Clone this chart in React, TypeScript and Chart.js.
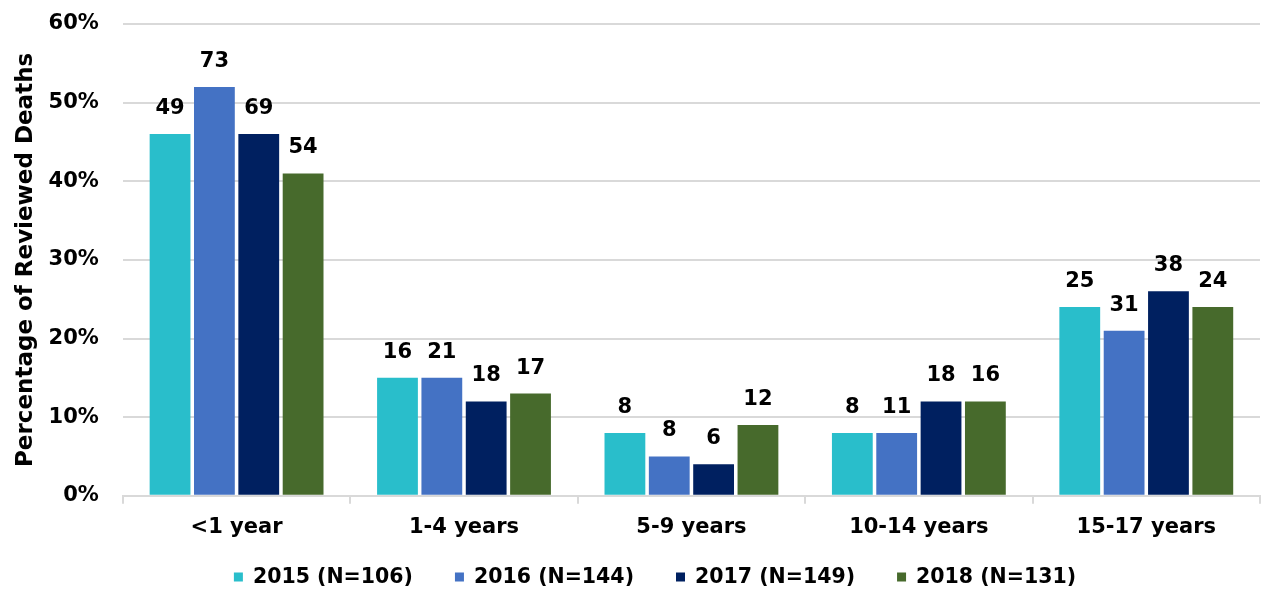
import React, { useEffect, useRef } from "react";
import { Chart, registerables } from "chart.js";

Chart.register(...registerables);

const categories = ["<1 year", "1-4 years", "5-9 years", "10-14 years", "15-17 years"];
const seriesNames = ["2015 (N=106)", "2016 (N=144)", "2017 (N=149)", "2018 (N=131)"];
const colors = ["#29BECB", "#4472C4", "#002060", "#476A2C"];
const pct2015 = [46, 15, 8, 8, 24];
const pct2016 = [52, 15, 5, 8, 21];
const pct2017 = [46, 12, 4, 12, 26];
const pct2018 = [41, 13, 9, 12, 24];
const count2015 = [49, 16, 8, 8, 25];
const count2016 = [73, 21, 8, 11, 31];
const count2017 = [69, 18, 6, 18, 38];
const count2018 = [54, 17, 12, 16, 24];
const yTicks = [0, 10, 20, 30, 40, 50, 60];

const FONT = "'DejaVu Sans', sans-serif";

export default function App() {
  const ref = useRef<HTMLCanvasElement | null>(null);
  useEffect(() => {
    document.body.style.margin = "0";
    const pcts = [pct2015, pct2016, pct2017, pct2018];
    const counts = [count2015, count2016, count2017, count2018];
    const labelPlugin = {
      id: "barLabels",
      afterDatasetsDraw(chart: any) {
        const ctx = chart.ctx;
        ctx.save();
        ctx.font = `bold 21px ${FONT}`;
        ctx.fillStyle = "#000";
        ctx.textAlign = "center";
        ctx.textBaseline = "alphabetic";
        chart.data.datasets.forEach((ds: any, i: number) => {
          const meta = chart.getDatasetMeta(i);
          meta.data.forEach((bar: any, j: number) => {
            ctx.fillText(String(counts[i][j]), bar.x, bar.y - 20);
          });
        });
        ctx.restore();
      },
    };
    const legendPlugin = {
      id: "customLegend",
      afterDraw(chart: any) {
        const ctx = chart.ctx;
        ctx.save();
        ctx.font = `bold 20.5px ${FONT}`;
        ctx.textBaseline = "middle";
        ctx.textAlign = "left";
        const box = 9;
        const textGap = 10;
        const itemGap = 42;
        const widths = chart.data.datasets.map(
          (ds: any) => box + textGap + ctx.measureText(ds.label).width
        );
        const total =
          widths.reduce((a: number, b: number) => a + b, 0) + itemGap * (widths.length - 1);
        let x = chart.width / 2 + 23 - total / 2;
        const y = 578;
        chart.data.datasets.forEach((ds: any, i: number) => {
          ctx.fillStyle = ds.backgroundColor;
          ctx.fillRect(x, y - box / 2 - 1, box, box);
          ctx.fillStyle = "#000";
          ctx.fillText(ds.label, x + box + textGap, y);
          x += widths[i] + itemGap;
        });
        ctx.restore();
      },
    };
    const chart = new Chart(ref.current!, {
      type: "bar",
      data: {
        labels: categories,
        datasets: seriesNames.map((n, i) => ({
          label: n,
          data: pcts[i],
          backgroundColor: colors[i],
          borderWidth: 0,
          categoryPercentage: 0.78,
          barPercentage: 0.92,
        })),
      },
      options: {
        animation: false,
        responsive: false,
        maintainAspectRatio: false,
        layout: { padding: { top: 24, right: 4, left: 12, bottom: 42 } },
        plugins: {
          legend: { display: false },
          tooltip: { enabled: false },
        },
        scales: {
          x: {
            grid: {
              offset: true,
              drawOnChartArea: false,
              drawTicks: true,
              tickLength: 8,
              color: "#d9d9d9",
              lineWidth: 2,
            },
            border: { color: "#d9d9d9", width: 2 },
            ticks: {
              font: { family: FONT, size: 21, weight: "bold" },
              color: "#000",
              padding: 11,
            },
          },
          y: {
            min: 0,
            max: 60,
            afterBuildTicks(axis: any) {
              axis.ticks = yTicks.map((v) => ({ value: v }));
            },
            grid: {
              color: "#d9d9d9",
              lineWidth: 2,
              drawTicks: true,
              tickLength: 22,
              tickColor: "rgba(0,0,0,0)",
            },
            border: { display: false },
            ticks: {
              font: { family: FONT, size: 21, weight: "bold" },
              color: "#000",
              padding: 2,
              callback: (v: any) => v + "%",
            },
            title: {
              display: true,
              text: "Percentage of Reviewed Deaths",
              font: { family: FONT, size: 23, weight: "bold" },
              color: "#000",
              padding: { top: 0, bottom: 7 },
            },
          },
        },
      },
      plugins: [labelPlugin, legendPlugin],
    } as any);
    return () => chart.destroy();
  }, []);
  return (
    <div style={{ width: 1264, height: 593 }}>
      <canvas ref={ref} width={1264} height={593} style={{ display: "block" }} />
    </div>
  );
}
